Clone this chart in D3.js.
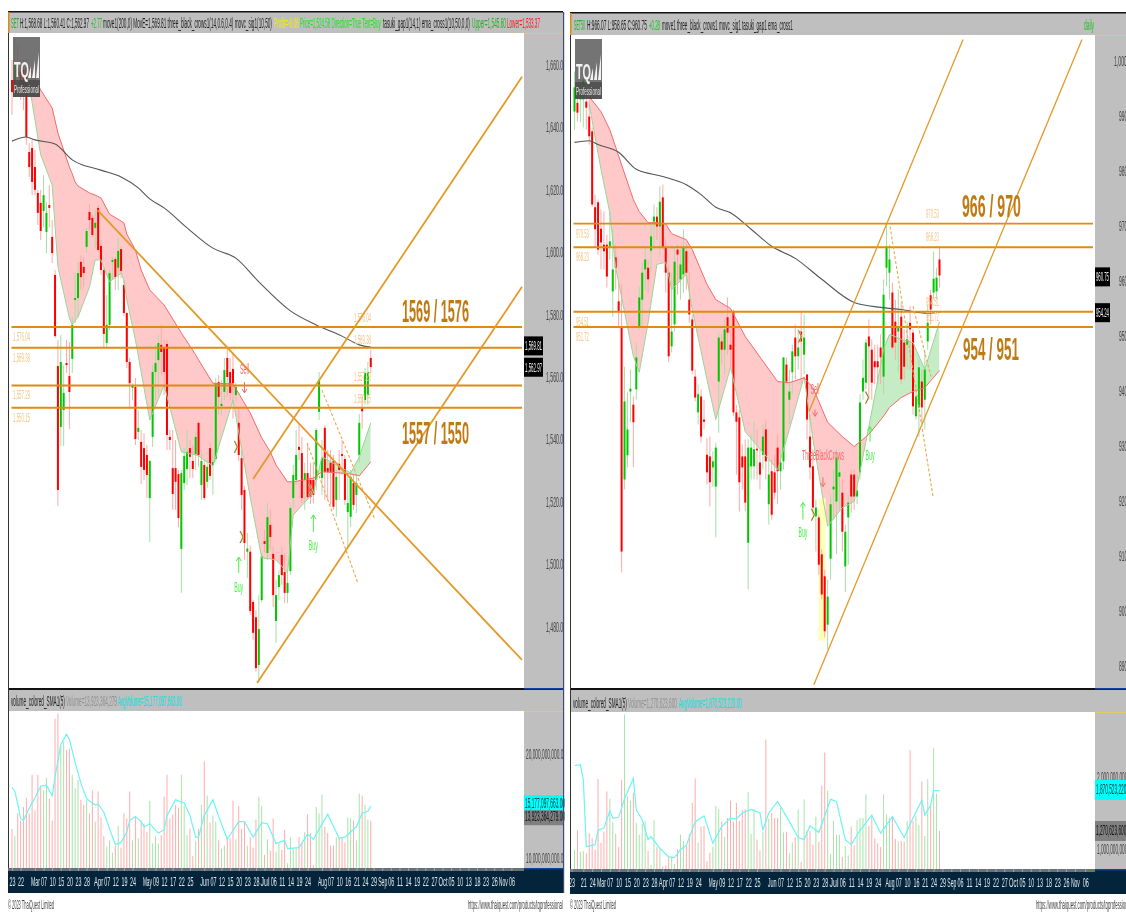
<!DOCTYPE html>
<html>
<head lang="en">
    <meta charset="UTF-8">
    <title></title>
    <style>
        body { margin: 0; background: #fff; }
        svg { display: block; filter: blur(0.45px); }
        text { font-family: "Liberation Sans", Arial, sans-serif; }
    </style>
</head>
<body>
<div id="main"></div>
<script src="https://cdn.jsdelivr.net/npm/d3@7"></script>
<script>
// SET index, daily
var setOpen = [1655.2,1654.2,1659,1657.8,1658.4,1659,1632.1,1633.4,1627.3,1619,
    1615.8,1613.2,1606.5,1615.1,1604.9,1592.7,1563.5,1544,1549.4,1564.5,
    1560.3,1565.8,1584.7,1585.3,1596.9,1595.3,1601.7,1612.9,1611,1607.8,
    1614.2,1602,1594.3,1570.9,1576.7,1596.9,1597.8,1595,1601,1589.5,
    1580.5,1564.8,1556.5,1556.8,1542.4,1539.2,1537.2,1535,1521.2,1540.8,
    1561.6,1565.4,1570.3,1569.3,1570.6,1540.8,1530.8,1530.8,1528.9,1504.9,
    1526,1530.5,1537.2,1533.1,1535.3,1545.3,1525.4,1531.8,1526.4,1537.2,
    1531.8,1533.7,1558.4,1550.7,1555.2,1566.1,1561.6,1562.6,1554.2,1545.3,
    1534,1523.8,1504,1504,1487.9,1483,1467.7,1488.5,1507.4,1503.6,
    1512.6,1503.3,1481.8,1492.7,1503,1497.5,1490.8,1497.8,1521.2,1527,
    1537.6,1535.6,1527,1529.2,1527,1527,1527,1548.8,1527.6,1543.7,
    1530.8,1532.5,1533.1,1520.6,1532.2,1535.3,1533.7,1516.7,1515.2,1526,
    1522.2,1535,1550.1,1552.6,1554.2,1566.1];
var setClose = [1651.3,1660,1656.8,1653.6,1651.3,1636.9,1627.3,1622.5,1620,1612.6,
    1606.8,1618.3,1612.6,1614.2,1599.7,1573.1,1523.8,1564.8,1554.9,1563.8,
    1555.2,1576.7,1585.3,1593.3,1592,1593.3,1606.8,1610.3,1605.5,1609.4,
    1600.7,1594.3,1573.8,1576.7,1593.3,1597.5,1592,1600.4,1594,1580.5,
    1564.8,1558,1557.4,1540.1,1543.7,1531.2,1530.2,1528.6,1533.1,1561.6,
    1564.5,1570.9,1568,1561.6,1541.4,1539.8,1522.5,1526.4,1514.8,1529.2,
    1534.7,1536,1534.4,1530.5,1540.8,1535,1533.1,1521.2,1531.2,1528.3,
    1532.8,1558,1553.6,1551.4,1562.2,1560,1554.9,1558,1556.8,1535,
    1522.2,1506.8,1505,1485,1478,1466.7,1479.2,1502.6,1506.5,1515.1,
    1508.7,1490.1,1490.1,1496.5,1496.5,1490.8,1494,1518,1528.6,1535,
    1536.6,1521.2,1529.2,1521.5,1521.5,1522.2,1543,1559,1534,1529.6,
    1529.6,1529.6,1518.4,1528,1530.2,1534.7,1520.6,1519.6,1528,1519,
    1526,1545.3,1549,1561.3,1561.6,1563.2];
var setHigh = [1661.6,1669,1666.4,1661.6,1661.6,1662,1635,1636,1632.8,1620,
    1620,1624.7,1616,1621.5,1610.3,1594.3,1571.9,1573.5,1563.8,1571.9,
    1571.2,1579.2,1593.3,1596.9,1599,1598.5,1607.8,1615.5,1611.9,1613.8,
    1615.1,1603.9,1595,1586.3,1594.3,1598.5,1598.5,1604.6,1601.7,1591.1,
    1580.8,1566.1,1558,1559.7,1549.4,1543,1542,1538.2,1533.4,1563.8,
    1570.3,1573.5,1576.7,1571.9,1571.9,1543,1543,1539.8,1530.2,1530.2,
    1537.2,1543,1539.8,1538.2,1542.4,1545.6,1536,1533.4,1533.4,1539.2,
    1536.6,1559.7,1560.6,1559,1566.1,1569.3,1566.1,1567.7,1558,1550.1,
    1536.6,1525.1,1510,1506,1488.5,1485.3,1490.1,1503.6,1511,1519.6,
    1517.4,1505.5,1495,1498.1,1505.5,1503.6,1497.2,1519,1531.8,1543,
    1545.3,1540.8,1532.5,1538.8,1532.5,1532.5,1543.7,1561.6,1539.8,1544.6,
    1536.6,1536.6,1535,1530.2,1536.6,1539.8,1535,1528,1530.2,1528.6,
    1528.6,1548.2,1554.2,1562.9,1564.8,1568.7];
var setLow = [1644,1650.4,1652,1648.8,1645.6,1634.4,1624.1,1618.3,1618.3,1608.7,
    1603.9,1608,1599.7,1608,1596.5,1572.5,1518.7,1537.9,1537.9,1561.3,
    1543.3,1561.3,1577.3,1579.2,1587.9,1588.8,1599.7,1607.1,1604.9,1601.3,
    1600,1592.7,1569.6,1569.3,1575,1591.1,1587.9,1587.9,1591.7,1579.6,
    1562.9,1549.8,1552.6,1538.2,1539.8,1525.7,1527,1521.2,1507.1,1537.6,
    1552.6,1554.2,1560.6,1554.2,1536.6,1536.6,1517.4,1517.4,1511.9,1490.8,
    1523.8,1525.4,1527.6,1527.6,1530.2,1531.2,1520.6,1520.6,1524.5,1527,
    1522.2,1532.8,1547.8,1547.5,1552.6,1553.6,1552.6,1546.6,1552,1533.1,
    1517.4,1501.4,1495.6,1483.7,1475.7,1465.5,1463,1487.9,1503.9,1501.4,
    1504.6,1486.3,1474.8,1488.5,1493.3,1487.5,1487.5,1496.5,1518,1525.4,
    1533.4,1519.6,1517.4,1520.6,1519.3,1519.6,1523.8,1546.2,1522.2,1520.6,
    1520.6,1519,1517.4,1515.2,1520.6,1528.6,1519,1505.5,1512,1517.4,
    1516.4,1532.5,1543.3,1551,1551,1561.3];
var setVolume = [12.8,12.1,14.3,13.6,14.9,15.8,14.3,18,14.6,18,
    16.8,16.5,17.7,15.7,13.6,23.4,23.9,20.7,21.2,20.4,
    20.5,18,16.7,17.5,15.6,15.1,15.6,14.3,16.5,13.5,
    16.4,13.9,12.1,11.1,11.7,10.5,11.2,13.1,11,14.3,
    13.8,16.4,11.7,14,11.9,13.6,13.3,12.5,15.5,11.4,
    12.1,11.4,12.2,15.9,18,13.8,14.2,15.1,14.8,18,
    15,12.2,12.8,10.2,11.6,12.8,15.1,19.3,16,13.4,
    14.1,13.5,11.7,10.9,11.2,12,11.9,15.5,11.8,15,
    12.8,13.5,11.2,12,11,13.7,15.9,15,10.3,11.8,
    10.7,13.8,10.6,11.4,10.8,12.7,9.5,12,10.9,10.9,
    12,11.4,12.5,14.2,12.4,9.3,14.9,14.3,16.1,13,
    12.4,11.2,11.2,12,12,11.9,11.5,13.9,13.8,13.6,
    11.7,16.2,16,15.1,13.7,13.6];
var setAvgIdx = [0,1,2,3,4,6,8,10,12,14,15,17,19,20,22,24,26,29,30,32,34,36,38,40,41,43,45,46,48,51,53,54,57,60,62,64,65,67,70,72,75,79,81,84,87,89,92,95,96,100,103,105,110,114,116,120,122,124,125];
var setAvg = [16.8,16.4,15.2,13.8,13.6,14.8,15.8,16.9,17,16,17.8,20.9,21.9,21.4,19.2,17.2,15.7,15.1,15.2,14.4,12.8,11.3,11.5,12.5,13.6,14,13.5,13,13.3,12.4,12.7,14.1,15.6,15.3,14.1,12,12,14.1,15.6,14,11.8,13.5,13.5,12,13.4,13.3,11.4,11.7,10.9,11,12.3,11.8,14.2,11.9,12,13,14.3,14.5,15];
var setBandIdx = [6,10,14,16,20,21,22,23,27,29,31,34,38,39,40,43,45,48,53,59,64,65,70,77,83,87,90,92,96,98,105,108,115,118,121,125];
var setBandUpper = [1659.4,1652,1646.2,1638.2,1627.3,1625.1,1622.5,1621.2,1619,1618.3,1617.4,1612.2,1610,1609.4,1605.8,1600.7,1594.3,1587.9,1583.1,1574.1,1567.1,1565.5,1558,1557.8,1548.5,1540.5,1536,1531.8,1526.4,1526.4,1527.6,1529.6,1529.2,1528.9,1528.3,1532.8];
var setBandLower = [1653.6,1631.2,1621.5,1595.3,1578.9,1576.7,1578,1579.2,1588.8,1597.5,1597.5,1590.5,1593.3,1591.1,1584.7,1571.9,1561.6,1546.2,1557.4,1536,1535,1534.7,1531.5,1552.6,1521.5,1502,1501.7,1501.4,1497.2,1515.8,1522.8,1534.4,1530.8,1529.2,1534.4,1545.3];
var setSmaIdx = [0,5,8,15,21,31,38,44,48,53,61,70,78,86,97,106,115,121,125];
var setSma = [1635.6,1636.9,1636,1634.7,1629.6,1626.3,1624.1,1620.6,1617.1,1614.2,1607.8,1601.3,1598.1,1590.5,1581.2,1576.7,1573.1,1570.3,1569.6];
var setLevels = [1576.04, 1569.38, 1557.29, 1550.15];
var setLevelLabels = ["1,576.04", "1,569.38", "1,557.29", "1,550.15"];
var setPriceTicks = [1660,1640,1620,1600,1580,1560,1540,1520,1500,1480];
var setTickLabels = ["23","22","Mar","07","10","15","20","23","28","Apr","07","12","19","24","May","09","12","17","22","25","Jun","07","12","15","20","23","28","Jul","06","11","14","19","24","Aug","07","10","16","21","24","29","Sep","06","11","14","19","22","27","Oct","05","10","13","18","23","26","Nov","06"];
var setTickIdx = [0,3,8,11,14,17,20,23,26,30,33,36,39,42,47,50,53,56,59,62,67,70,73,76,79,82,85,88,91,94,97,100,103,108,111,114,117,120,123,126,129,132,135,138,141,144,147,150,153,156,159,162,165,168,171,174];
// trend lines: idx0, price0, idx1, price1
var setTrends = [[29.8,1613.5,177.7,1469.3],[84,1527.3,177.7,1656.2],[85.4,1461.9,177.7,1588.9]];
var setDashes = [[108,1555.8,126.5,1514.2],[102.8,1538.9,120.5,1494]];
var setMarks = [[78,1537.6],[80,1508.7],[104,1523.8]];
// arrows: text, idx, text price, tail price, tip price
var setSignals = [["Buy",79,1492.7,1497.2,1502.3],["Buy",105,1506.2,1510.3,1515.8],["Sell",81,1562.6,1558.4,1554.9]];

// SET50 index, daily
var s50Open = [990.9,992.5,993.1,993.1,992.7,990,987.3,973.5,974.4,969.6,
    966.7,966.7,966.4,958.2,964.4,956.4,951.6,924,928.4,940,
    937.6,940.4,951.8,956.7,962.2,962.5,965.6,970.9,971.8,970,
    975.3,966.2,961.6,948.2,952.2,965.8,960.4,961.3,965.5,956.7,
    953.1,942.7,936.2,939.1,934.9,928.5,928.2,926.2,922.7,941.8,
    949.1,947.6,953.5,948.5,954.5,936.2,935.3,928.2,928.2,912.5,
    926.4,926.4,929.6,927.1,928.5,933.1,919.5,925.5,925.3,929.8,
    925.5,927.3,944.9,938.5,943.5,949.8,946.4,950.9,946.7,943.1,
    931.8,926.4,917.3,917.1,910.4,906.4,897.6,909.6,922.2,920,
    924.5,921.6,908.2,917.1,924.9,924.9,920.9,925.3,940,941.6,
    950,947.6,945.5,945.5,948,942.7,962.5,961.6,958,952.7,
    950.9,953.6,948.9,948.5,952.5,950.7,935.5,937.1,941.8,938.5,
    949.1,957.5,958,958.2,964];
var s50Close = [995.3,990.7,994.9,996.7,991.6,986.4,974,969.5,965.8,967.1,
    965.5,960.9,967.3,962.2,962.5,954.5,910.9,938.2,933.1,940.5,
    934.4,946.2,957.1,961.6,964,960.4,968.2,971.8,970,974.5,
    966.2,961.6,946.4,950.9,963.6,964.9,963.1,966.2,961.6,954,
    943.8,938.9,939.5,931.8,934.5,925.3,923.5,927.3,929.8,949.8,
    947.6,951.3,950.7,947.6,936.2,934.5,923.5,926.2,919.8,929.8,
    929.8,929.5,929.3,924.9,931.8,927.3,924.9,917.6,921.6,925.5,
    927.1,946.2,941.8,940,947.3,946.4,948,949.1,949.8,934.9,
    926.2,918.9,918.9,908.5,903.1,896.4,902.7,919.5,922.7,928,
    925.3,914.5,914.5,919.8,920.9,920.9,922,938,942.5,948.9,
    948.2,941.6,944.4,944.4,946.2,957.6,966.4,964,948,948.9,
    951.6,942.2,944.5,949.5,951.3,937.3,939.1,944.4,937.1,944,
    952.5,954.9,960.5,960.7,961.1];
var s50High = [998.2,994,998.2,998.5,994,993.1,988,975.8,974.9,973.1,
    972.7,968.5,972.7,969.5,966.7,959.8,959.5,944.5,939.8,944,
    939.1,948.9,959.1,963.6,966.4,964,970.7,974,973.5,977.3,
    977.6,967.6,963.1,961.6,966.2,966.7,965.8,969.5,966.7,961.8,
    954,944,941.3,940.4,938.5,931.5,931.8,929.1,930.7,950.7,
    950.4,953.1,957.1,951.3,954.9,937.6,936.7,930.4,931.3,931.3,
    932.2,934.5,933.1,929.5,934,934.9,927.6,927.6,928.5,932.2,
    929.5,946.2,946.2,944,948.5,952.2,951.3,954.5,954,943.1,
    935.8,929.5,920.4,917.6,911.3,907.6,905.8,921.3,925.8,929.5,
    927.6,924,915.8,921.3,925.8,925.8,924.9,939.5,945.8,949.5,
    953.1,949.5,948.5,948.5,950.4,960.4,970.4,966.7,959.8,956.7,
    958.5,956.2,951.3,952.7,955.6,951.3,941.3,945.8,944,947.6,
    955.8,958.5,965.5,962.5,966.2];
var s50Low = [987.6,989.1,988.9,988,987.6,984.9,973.6,966.2,964.9,962.2,
    962.2,958.9,964,953.6,958.5,951.8,907.1,922.2,926.2,934.4,
    926.2,938.5,951.3,951.8,958.5,958,962.2,965.8,967.6,964.9,
    965.8,958,945.3,947.1,950.9,957.6,956.7,958,958.5,952.5,
    943.1,938.2,934,930.7,933.1,923.1,919.1,922.7,913.5,932.5,
    944.9,943.1,946.7,944,935.6,924.9,918.2,922.2,918.2,904,
    924,924,924,922.2,925.8,924,915.8,916.7,920.4,919.5,
    922.2,925.8,941.3,934,939.5,942.2,944,941.3,943.1,931.3,
    924,917.6,910.9,906.7,902.2,895.3,893.1,905.8,916.7,910.4,
    918.5,910.9,903.5,908.5,918,918.5,919.5,924,938.5,940.4,
    938.5,938.5,941.3,941.3,941.3,939.5,959.1,956.7,947.6,945.8,
    943.6,941.3,942.2,944,944,935.8,934.9,931.8,934,933.1,
    947.6,952.2,956.7,956.7,958.9];
var s50Volume = [0.99,1.26,0.96,0.97,0.94,1.22,1.15,0.99,1.97,1.09,
    1.24,1.8,1.7,1.38,1.21,1.03,1.96,2.87,1.73,1.67,
    1.78,1.36,1.2,1.35,1.39,0.97,0.78,1.4,1.03,0.99,
    0.76,0.77,0.89,0.89,0.79,1,1.2,1.11,1.06,1.21,
    1.64,1.98,1.09,1.31,1.32,0.83,0.95,1.03,1.6,1.55,
    1.38,1.17,1.43,1.67,1.38,1.64,1.39,1.54,1.55,1.79,
    1.21,1.56,1.13,0.98,1.24,2.52,1.42,1.5,1.43,1.43,
    1.59,1.23,1.24,0.94,1.09,1.16,1.55,0.82,1.69,1.26,
    1.25,1.06,1.45,1.1,1.88,2.34,1.81,0.93,1.39,1.2,
    1.2,0.89,1.04,0.91,1.31,1.05,1.4,1.43,1.43,1.76,
    1.32,1.45,1.15,1.08,1.03,1.76,1.48,1.43,1.46,1.14,
    1.11,1.11,1.1,1.39,2.37,1.39,1.46,1.33,1.94,1.18,
    1.97,1.61,2.4,1.77,1.25];
var s50AvgIdx = [0,2,3,4,7,8,10,12,13,15,17,20,21,23,25,26,29,32,34,36,38,41,44,47,50,53,55,57,60,63,64,66,69,72,76,78,80,83,87,89,92,94,97,101,104,108,112,115,118,119,121,122,124];
var s50Avg = [2.16,2.17,1.96,1.03,1.06,1.26,1.29,1.53,1.43,1.44,1.7,1.98,1.54,1.41,1.13,1.17,1.01,0.89,0.88,0.99,1.05,1.38,1.46,1.08,1.31,1.43,1.42,1.5,1.55,1.5,1.26,1.5,1.66,1.45,1.16,1.13,1.32,1.23,1.69,1.66,1.13,1.06,1.26,1.47,1.22,1.45,1.16,1.43,1.68,1.47,1.61,1.81,1.81];
var s50BandIdx = [5,9,12,14,20,22,25,28,31,33,38,40,45,48,53,58,69,73,78,81,86,91,95,100,105,107,111,115,119,124];
var s50BandUpper = [993.6,990.9,987.6,984.4,974.9,972.7,970.7,970.7,970.5,968.7,967.6,965.8,959.5,956.7,955.1,950,941.8,941.6,942.5,940.7,934.4,931.8,930,932.2,935.5,937.1,938.9,940,940.7,943.8];
var s50BandLower = [992.2,980.4,972.5,962.5,946.4,943.5,952.5,963.1,963.5,958.5,961.3,954.9,942.2,934.9,944.4,932.7,925.8,933.1,942.7,931.3,915.5,918.9,920,933.6,947.6,950.4,949.5,948.9,944,952.7];
var s50SmaIdx = [0,5,8,15,21,30,38,43,48,53,60,67,75,84,95,104,111,120,124];
var s50Sma = [985.3,985.6,984.9,983.5,980.4,979.1,977.6,975.8,973.5,972.5,969.5,966.4,964.2,960.4,956.2,955.3,954.9,954.2,954.4];
var s50Levels = [970.53, 966.23, 954.51, 951.72];
var s50LevelLabels = ["970.53", "966.23", "954.51", "951.72"];
var s50PriceTicks = [1000,990,980,970,960,950,940,930,920,910,900,890];
var s50TickLabels = ["23","21","24","Mar","07","10","15","20","23","28","Apr","07","12","19","24","May","09","12","17","22","25","Jun","07","12","15","20","23","28","Jul","06","11","14","19","24","Aug","07","10","16","21","24","29","Sep","06","11","14","19","22","27","Oct","05","10","13","18","23","26","Nov","06"];
var s50TickIdx = [-1,3,6,9,12,15,18,21,24,27,30,33,36,39,42,47,50,53,56,59,62,67,70,73,76,79,82,85,88,91,94,97,100,103,107,110,113,116,119,122,125,128,131,134,137,140,143,146,149,152,155,158,161,164,167,170,173.5];
var s50Trends = [[79.7,936.4,132,1004],[81.3,886.7,172.4,1004]];
var s50Dashes = [[107.2,970,121.8,920.9],[115,955.5,121.1,942.7]];
var s50Marks = [[99.4,938.9],[81,917.6],[76.6,950]];
var s50Signals = [["Buy",77.6,914.4,916.7,919.8],["Buy",100.4,928.4,930.9,933.6],["Sell",81.7,940.4,936.7,935.5],["ThreeBlackCrows",84.4,928.5,924.4,922.7]];

var ORANGE = "#e08a10";

// the source picture is squeezed sideways, so narrow each text to the width it has there
function squeeze(t, w, x, y) {
    var k = w / t.node().getComputedTextLength();
    t.attr("transform", "translate(" + (x || 0) + "," + (y || 0) + ") scale(" + k + ",1)");
}

function put(g, x, y, str, fill, size, w, anchor, weight) {
    var t = g.append("text").text(str).attr("fill", fill).attr("font-size", size);
    if (anchor) t.attr("text-anchor", anchor);
    if (weight) t.attr("font-weight", weight);
    squeeze(t, w, x, y);
    return t;
}

function drawPanel(svg, c) {
    var g = svg.append("g");
    var n = c.open.length;
    var x = d3.scaleLinear().domain([0, n - 1]).range([c.barFirst, c.barLast]);
    var y = d3.scaleLinear().domain(c.yDomain).range(c.yRange);
    var vy = d3.scaleLinear().domain(c.volDomain).range(c.volRange);

    // grey furniture
    g.append("rect").attr("x", c.left).attr("y", c.top).attr("width", c.end - c.left).attr("height", c.headBot - c.top).attr("fill", "#bfbfbf");
    g.append("rect").attr("x", c.right).attr("y", c.top).attr("width", c.end - c.right).attr("height", c.axisBot - c.top).attr("fill", "#bfbfbf");
    g.append("rect").attr("x", c.left).attr("y", c.plotBot).attr("width", c.end - c.left).attr("height", c.volHead - c.plotBot).attr("fill", "#bfbfbf");
    g.append("rect").attr("x", c.left).attr("y", c.plotBot).attr("width", c.end - c.left).attr("height", 2).attr("fill", "#111");
    g.append("rect").attr("x", c.left).attr("y", c.top - 1).attr("width", c.end - c.left).attr("height", 1.5).attr("fill", "#111");
    g.append("rect").attr("x", c.left).attr("y", c.top).attr("width", 1.5).attr("height", c.headBot - c.top).attr("fill", ORANGE);
    g.append("rect").attr("x", c.left).attr("y", c.headBot).attr("width", 1).attr("height", c.axisBot - c.headBot).attr("fill", "#333");
    g.append("rect").attr("x", c.right).attr("y", c.plotBot).attr("width", c.end - c.right).attr("height", 1.5).attr("fill", "#1040a0");
    g.append("rect").attr("x", c.right).attr("y", c.headBot).attr("width", c.end - c.right).attr("height", 1).attr("fill", "#e8c860");
    g.append("rect").attr("x", c.right).attr("y", c.volHead).attr("width", c.end - c.right).attr("height", 1).attr("fill", "#e8c860");

    var id = c.id;
    var defs = svg.append("defs");
    defs.append("clipPath").attr("id", id + "plot").append("rect").attr("x", c.left).attr("y", c.headBot).attr("width", c.right - c.left).attr("height", c.plotBot - c.headBot);

    var plot = g.append("g").attr("clip-path", "url(#" + id + "plot)");

    // band between the moving averages
    var band = c.bandIdx.map(function (d, i) { return { i: d, up: c.bandUpper[i], lo: c.bandLower[i] }; });
    var areaBand = d3.area().x(function (d) { return x(d.i); }).y0(function (d) { return y(d.up); }).y1(function (d) { return y(d.lo); });
    var aboveLower = d3.area().x(function (d) { return x(d.i); }).y0(c.headBot).y1(function (d) { return y(d.lo); });
    var belowLower = d3.area().x(function (d) { return x(d.i); }).y0(c.plotBot).y1(function (d) { return y(d.lo); });
    defs.append("clipPath").attr("id", id + "above").append("path").attr("d", aboveLower(band));
    defs.append("clipPath").attr("id", id + "below").append("path").attr("d", belowLower(band));
    plot.append("path").attr("d", areaBand(band)).attr("fill", "#ffc9c9").attr("clip-path", "url(#" + id + "above)");
    plot.append("path").attr("d", areaBand(band)).attr("fill", "#c6ecc6").attr("clip-path", "url(#" + id + "below)");

    // yellow highlight of the three crows
    if (c.highlight) {
        plot.append("rect").attr("x", x(c.highlight[0])).attr("y", y(c.highlight[1]))
            .attr("width", x(c.highlight[2]) - x(c.highlight[0]))
            .attr("height", y(c.highlight[3]) - y(c.highlight[1])).attr("fill", "#ffffb8");
    }

    // candles
    var bars = d3.range(n);
    plot.selectAll(".wick").data(bars).enter().append("line")
        .attr("x1", function (i) { return x(i); }).attr("x2", function (i) { return x(i); })
        .attr("y1", function (i) { return y(c.high[i]); }).attr("y2", function (i) { return y(c.low[i]); })
        .attr("stroke", function (i) { return c.close[i] >= c.open[i] ? "#a6dfa6" : "#ffa8a8"; })
        .attr("stroke-width", 1);
    plot.selectAll(".body").data(bars).enter().append("rect")
        .attr("x", function (i) { return x(i) - 1; }).attr("width", 2)
        .attr("y", function (i) { return y(Math.max(c.open[i], c.close[i])); })
        .attr("height", function (i) { return Math.max(1.5, Math.abs(y(c.open[i]) - y(c.close[i]))); })
        .attr("fill", function (i) { return c.close[i] >= c.open[i] ? "#00c800" : "#ff0000"; });

    // band edges and the slow average
    var lineUp = d3.line().x(function (d) { return x(d.i); }).y(function (d) { return y(d.up); });
    var lineLo = d3.line().x(function (d) { return x(d.i); }).y(function (d) { return y(d.lo); });
    plot.append("path").attr("d", lineLo(band)).attr("fill", "none").attr("stroke", "#98d498").attr("stroke-width", 1);
    plot.append("path").attr("d", lineUp(band)).attr("fill", "none").attr("stroke", "#f26a6a").attr("stroke-width", 1);
    var sma = c.smaIdx.map(function (d, i) { return [x(d), y(c.sma[i])]; });
    plot.append("path").attr("d", d3.line().curve(d3.curveMonotoneX)(sma)).attr("fill", "none").attr("stroke", "#555").attr("stroke-width", 1.1);

    // markers
    c.marks.forEach(function (m) {
        var p = "M" + (x(m[0]) - 1.5) + "," + (y(m[1]) - 6) + "L" + (x(m[0]) + 1.5) + "," + y(m[1]) + "L" + (x(m[0]) - 1.5) + "," + (y(m[1]) + 6);
        plot.append("path").attr("d", p).attr("fill", "none").attr("stroke", "#f4e060").attr("stroke-width", 1.8);
        plot.append("path").attr("d", p).attr("fill", "none").attr("stroke", "#666").attr("stroke-width", 0.9);
    });

    // levels and trend lines
    c.levels.forEach(function (v, i) {
        plot.append("line").attr("x1", c.left + 3.5).attr("x2", c.right - 2).attr("y1", y(v)).attr("y2", y(v)).attr("stroke", ORANGE).attr("stroke-width", 1.9);
        put(plot, c.labelLeftX, y(v) + c.labelLeftDy[i], c.levelLabels[i], "#f2c688", 13, c.levelW);
        put(plot, c.labelRightX, y(v) - c.labelRightDy[i], c.levelLabels[i], "#f2c688", 13, c.levelW);
    });
    c.trends.forEach(function (t) {
        plot.append("line").attr("x1", x(t[0])).attr("y1", y(t[1])).attr("x2", x(t[2])).attr("y2", y(t[3])).attr("stroke", "#e39a2a").attr("stroke-width", c.trendW);
    });
    c.dashes.forEach(function (t) {
        plot.append("line").attr("x1", x(t[0])).attr("y1", y(t[1])).attr("x2", x(t[2])).attr("y2", y(t[3])).attr("stroke", "#eba84a").attr("stroke-width", 1.1).attr("stroke-dasharray", "3,2");
    });

    // buy and sell signals
    c.signals.forEach(function (s) {
        var col = s[0] === "Buy" ? "#46f046" : "#f26a6a";
        var sx = x(s[1]);
        plot.append("line").attr("x1", sx).attr("x2", sx).attr("y1", y(s[3])).attr("y2", y(s[4])).attr("stroke", col).attr("stroke-width", 1);
        var dir = s[4] > s[3] ? 4 : -4;
        plot.append("path").attr("d", "M" + (sx - 2.5) + "," + (y(s[4]) + dir) + "L" + sx + "," + y(s[4]) + "L" + (sx + 2.5) + "," + (y(s[4]) + dir))
            .attr("fill", "none").attr("stroke", col).attr("stroke-width", 1);
        put(plot, sx, y(s[2]) + 5, s[0], col, 14, s[0].length > 4 ? 42 : 9, "middle");
    });

    // logo
    var logo = g.append("g");
    logo.append("rect").attr("x", c.logoX).attr("y", c.logoY).attr("width", 27).attr("height", 60).attr("fill", "#555").attr("opacity", 0.82);
    logo.append("rect").attr("x", c.logoX).attr("y", c.logoY + 43).attr("width", 27).attr("height", 17).attr("fill", "#444").attr("opacity", 0.7);
    put(logo, c.logoX + 1, c.logoY + 40, "TQ", "#f2f2f2", 22, 15, null, "bold");
    logo.append("path").attr("d", "M" + (c.logoX + 15) + "," + (c.logoY + 41) + "l3,-12v12z M" + (c.logoX + 19) + "," + (c.logoY + 41) + "l3,-18v18z M" + (c.logoX + 23) + "," + (c.logoY + 41) + "l3,-26v26z").attr("fill", "#f2f2f2");
    put(logo, c.logoX + 1, c.logoY + 56, "Professional", "#e6e6e6", 10, 25);

    // price axis
    var yAxis = d3.axisRight(y).tickValues(c.priceTicks).tickSize(0).tickPadding(0).tickFormat(d3.format(",.2f"));
    var ya = g.append("g").attr("transform", "translate(" + c.labelEnd + ",0)").attr("clip-path", "url(#" + id + "yclip)").call(yAxis);
    defs.append("clipPath").attr("id", id + "yclip").append("rect").attr("x", c.right - c.labelEnd).attr("y", c.headBot).attr("width", c.end - c.right).attr("height", c.plotBot - c.headBot);
    ya.select(".domain").remove();
    ya.selectAll("text").attr("text-anchor", "end").attr("fill", "#444").attr("font-size", 14).attr("font-family", null)
        .each(function (d) { squeeze(d3.select(this), d >= 1000 ? 20 : 15); });
    var minorStep = (c.yDomain[0] - c.yDomain[1]) * 10 / (c.yRange[1] - c.yRange[0]);
    var minor = d3.axisLeft(y).tickValues(d3.range(c.yDomain[1] - 10 * minorStep, c.yDomain[0] + 10 * minorStep, minorStep)).tickSize(2).tickFormat("");
    var ma = g.append("g").attr("transform", "translate(" + c.right + ",0)").attr("clip-path", "url(#" + id + "plot)").call(minor);
    ma.select(".domain").remove();
    ma.selectAll("line").attr("stroke", "#555");
    var mb = g.append("g").attr("transform", "translate(" + (c.left + 2) + ",0)").attr("clip-path", "url(#" + id + "plot)").call(minor);
    mb.select(".domain").remove();
    mb.selectAll("line").attr("stroke", "#333");
    // last price tags
    c.tags.forEach(function (t) {
        g.append("rect").attr("x", c.right).attr("y", y(t[0]) - 10).attr("width", c.tagW).attr("height", 19).attr("fill", "#000");
        put(g, c.right + 1, y(t[0]) + 4, t[1], "#eee", 13, c.tagW - 2);
    });

    // header texts
    c.head.forEach(function (h) { put(g, h[0], c.headY, h[1], h[2], 14, h[3]); });

    // big levels text
    c.big.forEach(function (b) {
        put(g, b[0], b[1], b[2], "#c07a12", 31, b[3], null, "bold");
    });

    // volume panel
    var vg = g.append("g");
    vg.selectAll(".vol").data(bars).enter().append("rect")
        .attr("x", function (i) { return x(i) - 0.5; }).attr("width", 1)
        .attr("y", function (i) { return vy(c.volume[i]); })
        .attr("height", function (i) { return c.volBot - vy(c.volume[i]); })
        .attr("fill", function (i) { return c.close[i] >= c.open[i] ? "#a8e4a8" : "#ffacac"; });
    var avg = c.avgIdx.map(function (d, i) { return [x(d), vy(c.avg[i])]; });
    vg.append("path").attr("d", d3.line()(avg)).attr("fill", "none").attr("stroke", "#6cf4f4").attr("stroke-width", 1.2);
    c.volHeads.forEach(function (h) { put(g, h[0], c.volHeadY, h[1], h[2], 14, h[3]); });

    // volume axis
    var vAxis = d3.axisRight(vy).tickValues(c.volTicks).tickSize(0).tickPadding(0).tickFormat(function (d) { return d3.format(",.2f")(d * 1e9); });
    defs.append("clipPath").attr("id", id + "vclip").append("rect").attr("x", 0).attr("y", c.volHead).attr("width", c.end - c.right - 2).attr("height", c.volBot - c.volHead);
    var va = g.append("g").attr("transform", "translate(" + (c.right + 2) + ",0)").attr("clip-path", "url(#" + id + "vclip)").call(vAxis);
    va.select(".domain").remove();
    va.selectAll("text").attr("fill", "#444").attr("font-size", 14).attr("font-family", null)
        .each(function () { squeeze(d3.select(this), c.volLabelW); });
    c.volTags.forEach(function (t) {
        g.append("rect").attr("x", c.right).attr("y", vy(t[0]) - t[3]).attr("width", c.end - c.right).attr("height", t[4]).attr("fill", t[2]);
        put(g, c.right + 1, vy(t[0]) + 4, t[1], t[5], 14, c.volLabelW);
    });

    // time axis
    g.append("rect").attr("x", c.left).attr("y", c.volBot).attr("width", c.end - c.left).attr("height", c.axisBot - c.volBot).attr("fill", "#03243b");
    g.append("rect").attr("x", c.left).attr("y", c.volBot).attr("width", c.right - c.left).attr("height", 3).attr("fill", "#68727a");
    g.append("rect").attr("x", c.right).attr("y", c.volBot).attr("width", c.end - c.right).attr("height", 1.5).attr("fill", "#1040a0");
    var xAxis = d3.axisBottom(x).tickValues(c.tickIdx).tickSize(3).tickPadding(6).tickFormat(function (d, i) { return c.tickLabels[i]; });
    var xa = g.append("g").attr("transform", "translate(0," + c.volBot + ")").attr("clip-path", "url(#" + id + "xclip)").call(xAxis);
    defs.append("clipPath").attr("id", id + "xclip").append("rect").attr("x", c.left).attr("y", 0).attr("width", c.right - c.left).attr("height", c.axisBot - c.volBot);
    xa.select(".domain").remove();
    xa.selectAll("line").attr("stroke", "#9aa4aa");
    xa.selectAll("text").attr("fill", "#dfe6ea").attr("font-size", 13).attr("font-family", null)
        .each(function (d, i) { squeeze(d3.select(this), c.tickLabels[i].length > 2 ? 9 : 6); });

    // footer
    put(g, c.left, 909, "\u00a9 2023 ThaiQuest Limited", "#444", 12, 46);
    put(g, c.urlX, 909, "https://www.thaiquest.com/products/tqprofessional", "#444", 12, 95);
}

var svg = d3.select("#main").append("svg").attr("width", 1126).attr("height", 913);

drawPanel(svg, {
    id: "a", left: 8, right: 524, end: 563, top: 12, headBot: 33, plotBot: 688, volHead: 711, volBot: 868, axisBot: 893,
    barFirst: 12, barLast: 370.75,
    yDomain: [1660, 1480], yRange: [65, 626.6],
    volDomain: [20, 10], volRange: [754, 858],
    open: setOpen, close: setClose, high: setHigh, low: setLow, volume: setVolume,
    avgIdx: setAvgIdx, avg: setAvg,
    bandIdx: setBandIdx, bandUpper: setBandUpper, bandLower: setBandLower,
    smaIdx: setSmaIdx, sma: setSma,
    levels: setLevels, levelLabels: setLevelLabels,
    labelLeftX: 13, labelLeftDy: [14, 14, 14, 14], labelRightX: 354, labelRightDy: [5, 4, 4, 5], levelW: 17,
    trends: setTrends, trendW: 1.8, dashes: setDashes, marks: setMarks, signals: setSignals,
    priceTicks: setPriceTicks, tickIdx: setTickIdx, tickLabels: setTickLabels,
    labelEnd: 566, tags: [[1569.81, "1,569.81"], [1562.97, "1,562.97"]], tagW: 19,
    logoX: 13, logoY: 37,
    headY: 28,
    head: [[11, "SET", "#22b022", 8], [20, "H:1,568.68 L:1,560.41 C:1,562.97", "#222", 69], [91, "+2.77", "#22c022", 11],
        [103, "move1(200,0) MovE=1,569.81 three_black_crows1(14,0.6,0.4) movc_sig1(10,50)", "#222", 169],
        [274, "Profit=-6.06", "#f0f000", 25], [300, "Price=1,524.58 Direction=True Text=Buy", "#22e022", 81],
        [383, "tasuki_gap1(14,1) ema_cross1(10,50,0,0)", "#222", 87], [472, "Upper=1,545.60", "#22b022", 34], [507, "Lower=1,533.37", "#f02020", 33]],
    big: [[402, 322, "1569 / 1576", 67], [402, 444, "1557 / 1550", 67]],
    volHeadY: 706,
    volHeads: [[11, "volume_colored_SMA1(5)", "#222", 54], [66, "Volume=13,923,364,279", "#909090", 51], [118, "AvgVolume=15,177,097,663.00", "#10e0e0", 64]],
    volTicks: [20, 10], volLabelW: 40,
    volTags: [[15.177, "15,177,097,663.00", "#00ffff", 9, 19, "#084040"], [13.923, "13,923,364,279.00", "#808080", 7, 15, "#111"]],
    urlX: 468
});

drawPanel(svg, {
    id: "b", left: 570, right: 1095, end: 1126, top: 13, headBot: 35, plotBot: 688, volHead: 712, volBot: 869, axisBot: 894,
    barFirst: 574.5, barLast: 939.5,
    yDomain: [1000, 890], yRange: [61.5, 666.5],
    volDomain: [2, 1], volRange: [777, 849],
    open: s50Open, close: s50Close, high: s50High, low: s50Low, volume: s50Volume,
    avgIdx: s50AvgIdx, avg: s50Avg,
    bandIdx: s50BandIdx, bandUpper: s50BandUpper, bandLower: s50BandLower,
    smaIdx: s50SmaIdx, sma: s50Sma,
    levels: s50Levels, levelLabels: s50LevelLabels,
    labelLeftX: 576, labelLeftDy: [14, 14, 14, 14], labelRightX: 926, labelRightDy: [6, 6, 6, 6], levelW: 13,
    trends: s50Trends, trendW: 1.3, dashes: s50Dashes, marks: s50Marks, signals: s50Signals,
    highlight: [82.9, 920.6, 85.3, 894.7],
    priceTicks: s50PriceTicks, tickIdx: s50TickIdx, tickLabels: s50TickLabels,
    labelEnd: 1134, tags: [[960.75, "960.75"], [954.24, "954.24"]], tagW: 15,
    logoX: 575, logoY: 39,
    headY: 30,
    head: [[574, "SET50", "#22b022", 11], [587, "H:966.07 L:958.65 C:960.75", "#222", 60], [649, "+0.28", "#22c022", 11],
        [662, "move1 three_black_crows1 movc_sig1 tasuki_gap1 ema_cross1", "#222", 131], [1084, "daily", "#22c022", 10]],
    big: [[962, 217, "966 / 970", 59], [963, 360, "954 / 951", 56]],
    volHeadY: 708,
    volHeads: [[573, "volume_colored_SMA1(5)", "#222", 54], [628, "Volume=1,270,623,600", "#909090", 49], [679, "AvgVolume=1,870,523,220.00", "#10e0e0", 63]],
    volTicks: [2, 1], volLabelW: 37,
    volTags: [[1.82, "1,870,523,220.00", "#00ffff", 10, 20, "#084040"], [1.25, "1,270,623,600.00", "#808080", 10, 20, "#111"]],
    urlX: 1036
});

// divider on the left of the second chart
svg.append("rect").attr("x", 563).attr("y", 12).attr("width", 1.2).attr("height", 881).attr("fill", "#3a4a7a");
</script>
</body>
</html>
